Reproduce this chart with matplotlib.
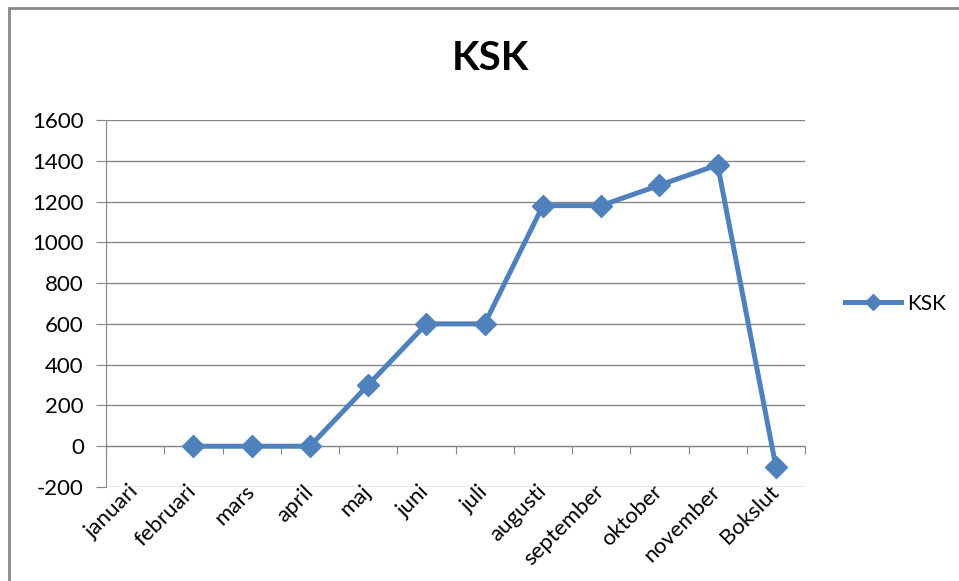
import matplotlib.pyplot as plt
from matplotlib.patches import Rectangle
import numpy as np

plt.rcParams['font.family'] = ['Lato', 'DejaVu Sans']
plt.rcParams['axes.unicode_minus'] = False

months = ["januari", "februari", "mars", "april", "maj", "juni", "juli",
          "augusti", "september", "oktober", "november", "Bokslut"]
ksk = [np.nan, 0, 0, 0, 300, 600, 600, 1180, 1180, 1280, 1380, -100]
yticks = [-200, 0, 200, 400, 600, 800, 1000, 1200, 1400, 1600]

blue = "#4F81BD"
grey = "#868686"

fig = plt.figure(figsize=(9.59, 5.81), dpi=100)
ax = fig.add_axes([106/959, 1 - 487/581, 699/959, 367/581])

x = np.arange(len(months))
ax.plot(x, ksk, color=blue, lw=3.6, marker='D', markersize=11, label="KSK",
        zorder=3)

ax.set_xlim(-0.5, len(months) - 0.5)
ax.set_ylim(yticks[0], yticks[-1])
ax.set_yticks(yticks)
ax.yaxis.grid(True, color=grey, lw=1)
ax.set_axisbelow(True)
ax.tick_params(axis='y', length=7, color=grey, labelsize=16, pad=9)

for s in ['top', 'right']:
    ax.spines[s].set_visible(False)
ax.spines['left'].set_color(grey)
ax.spines['bottom'].set_position(('data', 0))
ax.spines['bottom'].set_color(grey)

# category axis crosses at 0, ticks between categories
ax.set_xticks(np.arange(-0.5, len(months), 1.0))
ax.set_xticklabels([])
ax.tick_params(axis='x', length=6, color=grey, direction='out')

# labels sit at the bottom of the plot
sec = ax.secondary_xaxis(0)
sec.set_xticks(x)
sec.set_xticklabels(months, rotation=45, ha='right', va='center',
                    rotation_mode='anchor', fontsize=16)
sec.tick_params(length=0, pad=1)
sec.spines['bottom'].set_visible(False)

fig.text(490/959, 1 - 58/581, "KSK", ha='center', va='center',
         fontsize=29, fontweight='bold')

leg = ax.legend(loc='center left', bbox_to_anchor=(1.03, 0.5),
                frameon=False, fontsize=15, handlelength=2.7,
                handletextpad=0.3, markerscale=0.75)

fig.patches.append(Rectangle((9/959, -0.1), 1.2, 1 - 8/581 + 0.1,
                             transform=fig.transFigure, fill=False,
                             edgecolor="#898989", lw=2))

fig.savefig("out.png", dpi=100)
